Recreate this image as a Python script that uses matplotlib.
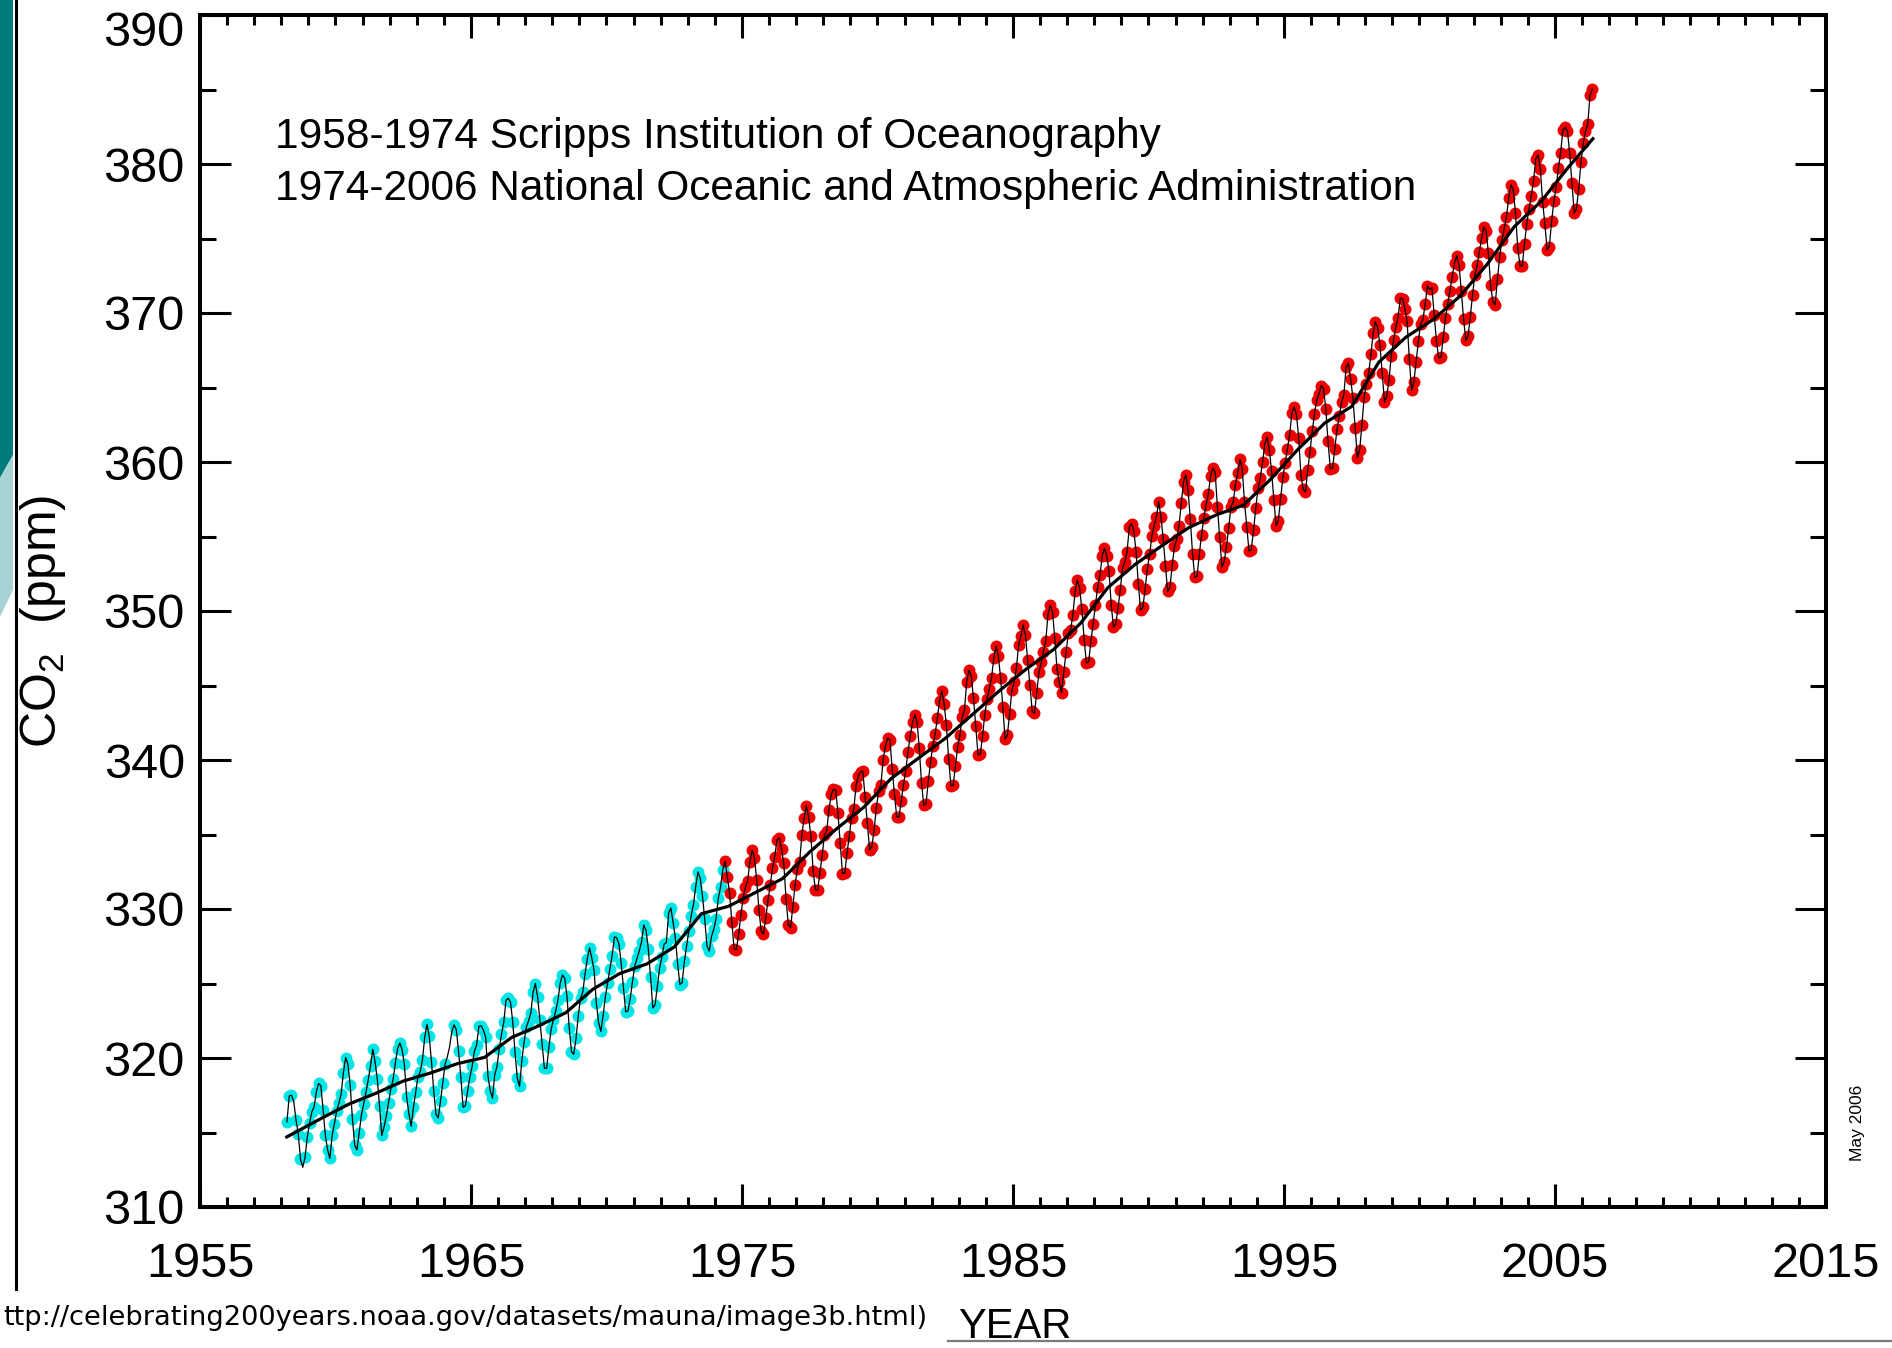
import numpy as np
import matplotlib
matplotlib.use("Agg")
import matplotlib.pyplot as plt
from matplotlib.patches import Polygon
from matplotlib.lines import Line2D
from matplotlib import font_manager as fm
from matplotlib.ticker import MultipleLocator, FixedLocator, FixedFormatter

# ---------------- data (monthly mean CO2, ppm) ----------------
scripps_start = (1958, 3)   # Scripps record, cyan
scripps_co2 = [
    315.71, 317.45, 317.50, 317.10, 315.86, 314.93, 313.20, 312.66, 313.33, 314.67,
    315.62, 316.38, 316.71, 317.72, 318.29, 318.15, 316.54, 314.80, 313.84, 313.26, 314.80, 315.58,
    316.43, 316.97, 317.58, 319.02, 320.03, 319.59, 318.18, 315.91, 314.16, 313.83, 315.00, 316.19,
    316.93, 317.70, 318.54, 319.48, 320.58, 319.77, 318.57, 316.79, 314.80, 315.38, 316.10, 317.01,
    317.94, 318.56, 319.68, 320.63, 321.01, 320.55, 319.58, 317.40, 316.26, 315.42, 316.69, 317.69,
    318.74, 319.08, 319.86, 321.39, 322.25, 321.47, 319.74, 317.77, 316.21, 315.99, 317.12, 318.31,
    319.57, 320.07, 320.73, 321.77, 322.23, 321.89, 320.44, 318.70, 316.70, 316.79, 317.79, 318.71,
    319.44, 320.44, 320.89, 322.13, 322.16, 321.87, 321.39, 318.81, 317.81, 317.30, 318.87, 319.42,
    320.62, 321.59, 322.39, 323.87, 324.01, 323.75, 322.39, 320.37, 318.64, 318.10, 319.79, 321.08,
    322.07, 322.50, 323.04, 324.42, 325.00, 324.09, 322.55, 320.92, 319.31, 319.31, 320.72, 321.96,
    322.57, 323.15, 323.89, 325.02, 325.57, 325.36, 324.14, 322.03, 320.41, 320.25, 321.31, 322.84,
    324.00, 324.42, 325.64, 326.66, 327.38, 326.70, 325.89, 323.67, 322.38, 321.78, 322.85, 324.12,
    325.03, 325.99, 326.87, 328.13, 328.07, 327.66, 326.35, 324.69, 323.10, 323.16, 323.98, 325.13,
    326.17, 326.68, 327.18, 327.78, 328.92, 328.57, 327.34, 325.46, 323.36, 323.57, 324.80, 326.01,
    326.77, 327.63, 327.75, 329.72, 330.07, 329.09, 328.05, 326.32, 324.93, 325.06, 326.50, 327.55,
    328.54, 329.56, 330.30, 331.50, 332.48, 332.07, 330.87, 329.31, 327.51, 327.18, 328.16, 328.64,
    329.35, 330.71, 331.48, 332.65,
]
scripps_gaps = [(1958, 6), (1958, 10), (1964, 2), (1964, 3), (1964, 4)]  # line only, no dot

noaa_start = (1974, 5)      # NOAA record, red
noaa_co2 = [
    333.20, 332.16, 331.07, 329.12, 327.32, 327.28, 328.30, 329.58,
    330.73, 331.46, 331.90, 333.17, 333.94, 333.45, 331.97, 329.95, 328.50, 328.34, 329.37, 330.58,
    331.59, 332.75, 333.52, 334.64, 334.77, 334.00, 333.06, 330.68, 328.95, 328.75, 330.15, 331.62,
    332.66, 333.13, 334.95, 336.13, 336.93, 336.17, 334.88, 332.56, 331.29, 331.27, 332.41, 333.60,
    334.95, 335.25, 336.66, 337.69, 338.03, 338.01, 336.41, 334.41, 332.37, 332.41, 333.75, 334.90,
    336.14, 336.69, 338.27, 338.95, 339.21, 339.26, 337.54, 335.75, 333.98, 334.19, 335.31, 336.81,
    337.90, 338.34, 340.01, 340.93, 341.48, 341.33, 339.40, 337.70, 336.19, 336.15, 337.27, 338.32,
    339.29, 340.55, 341.61, 342.53, 343.03, 342.54, 340.78, 338.44, 336.95, 337.08, 338.58, 339.88,
    340.96, 341.73, 342.81, 343.97, 344.63, 343.79, 342.32, 340.09, 338.28, 338.29, 339.60, 340.90,
    341.68, 342.90, 343.33, 345.25, 346.03, 345.63, 344.19, 342.27, 340.35, 340.38, 341.59, 343.05,
    344.10, 344.79, 345.52, 346.84, 347.63, 346.98, 345.53, 343.55, 341.40, 341.67, 343.10, 344.70,
    345.21, 346.16, 347.74, 348.34, 349.06, 348.38, 346.72, 345.02, 343.27, 343.13, 344.49, 345.88,
    346.56, 347.28, 348.01, 349.77, 350.38, 349.93, 348.16, 346.08, 345.22, 344.51, 345.93, 347.22,
    348.52, 348.73, 349.73, 351.31, 352.09, 351.53, 350.11, 348.08, 346.52, 346.59, 347.96, 349.16,
    350.39, 351.64, 352.40, 353.69, 354.21, 353.72, 352.69, 350.40, 348.92, 349.13, 350.20, 351.41,
    352.91, 353.27, 353.96, 355.64, 355.86, 355.37, 353.99, 351.81, 350.05, 350.25, 351.49, 352.85,
    353.80, 355.04, 355.73, 356.32, 357.32, 356.34, 354.84, 353.01, 351.31, 351.62, 353.07, 354.33,
    354.84, 355.73, 357.23, 358.66, 359.13, 358.13, 356.19, 353.85, 352.25, 352.35, 353.81, 355.12,
    356.25, 357.11, 357.86, 359.09, 359.59, 359.33, 357.01, 354.94, 352.96, 353.32, 354.32, 355.57,
    357.00, 357.31, 358.47, 359.27, 360.19, 359.52, 357.33, 355.64, 354.03, 354.12, 355.41, 356.91,
    358.24, 358.92, 359.99, 361.23, 361.65, 360.81, 359.38, 357.46, 355.73, 356.07, 357.53, 358.98,
    359.92, 360.86, 361.83, 363.30, 363.69, 363.19, 361.64, 359.12, 358.17, 357.99, 359.45, 360.68,
    362.07, 363.24, 364.17, 364.57, 365.13, 364.92, 363.55, 361.38, 359.54, 359.58, 360.89, 362.24,
    363.09, 364.03, 364.51, 366.35, 366.64, 365.59, 364.31, 362.25, 360.29, 360.82, 362.49, 364.38,
    365.26, 365.98, 367.24, 368.66, 369.42, 368.99, 367.82, 365.95, 364.02, 364.40, 365.52, 367.13,
    368.18, 369.07, 369.68, 370.99, 370.96, 370.30, 369.45, 366.90, 364.81, 365.37, 366.72, 368.10,
    369.29, 369.54, 370.60, 371.82, 371.58, 371.70, 369.86, 368.13, 367.00, 367.03, 368.37, 369.67,
    370.59, 371.51, 372.43, 373.37, 373.85, 373.21, 371.51, 369.61, 368.18, 368.45, 369.76, 371.24,
    372.53, 373.20, 374.12, 375.02, 375.76, 375.52, 374.01, 371.85, 370.75, 370.55, 372.25, 373.79,
    374.88, 375.64, 376.45, 377.73, 378.60, 378.28, 376.70, 374.38, 373.17, 373.15, 374.66, 375.99,
    377.00, 377.87, 378.88, 380.35, 380.62, 379.69, 377.47, 376.01, 374.25, 374.46, 376.16, 377.51,
    378.46, 379.73, 380.77, 382.29, 382.45, 382.21, 380.74, 378.74, 376.70, 377.00, 378.35, 380.11,
    381.38, 382.19, 382.67, 384.61, 385.03,
]

# smoothed (deseasonalised) trend
trend_year = [1958.2] + [y + 0.5 for y in range(1959, 2006)] + [2006.4]
trend_co2 = [
    314.70,
    315.97, 316.91, 317.64, 318.45, 318.99, 319.62, 320.04, 321.38, 322.16, 323.04,
    324.62, 325.68, 326.32, 327.45, 329.68, 330.18, 331.11, 332.04, 333.83, 335.40,
    336.84, 338.75, 340.11, 341.45, 343.05, 344.65, 346.12, 347.42, 349.19, 351.57,
    353.12, 354.39, 355.61, 356.45, 357.10, 358.83, 360.82, 362.61, 363.73, 366.70,
    368.38, 369.55, 371.14, 373.28, 375.80, 377.52, 379.80,
    381.70,
]

x_ticks = [1955, 1965, 1975, 1985, 1995, 2005, 2015]
x_tick_labels = ["1955", "1965", "1975", "1985", "1995", "2005", "2015"]
y_ticks = [310, 320, 330, 340, 350, 360, 370, 380, 390]
y_tick_labels = ["310", "320", "330", "340", "350", "360", "370", "380", "390"]

note_lines = ["1958-1974 Scripps Institution of Oceanography",
              "1974-2006 National Oceanic and Atmospheric Administration"]
source_text = "ttp://celebrating200years.noaa.gov/datasets/mauna/image3b.html)"

# ---------------- fonts ----------------
def has_font(name):
    try:
        fm.findfont(fm.FontProperties(family=name), fallback_to_default=False)
        return True
    except Exception:
        return False

plt.rcParams['font.family'] = ['Liberation Sans', 'DejaVu Sans']
plt.rcParams['mathtext.fontset'] = 'custom'
plt.rcParams['mathtext.rm'] = 'Liberation Sans'
plt.rcParams['mathtext.it'] = 'Liberation Sans:italic'
plt.rcParams['mathtext.bf'] = 'Liberation Sans:bold'
narrow = 'Liberation Sans Narrow' if has_font('Liberation Sans Narrow') else None

# ---------------- helpers ----------------
def month_times(start, n):
    y0, m0 = start
    return np.array([y0 + (m0 - 1 + i + 0.5) / 12.0 for i in range(n)])

W, H = 1892, 1348
fig = plt.figure(figsize=(W / 100, H / 100), dpi=100)
fig.patch.set_facecolor('white')

def fx(px):
    return px / W

def fy(py):
    return 1 - py / H

ax = fig.add_axes([fx(200), fy(1207), fx(1826) - fx(200), fy(15) - fy(1207)])

t_s = month_times(scripps_start, len(scripps_co2))
t_n = month_times(noaa_start, len(noaa_co2))
v_s = np.array(scripps_co2)
v_n = np.array(noaa_co2)

gap_t = [y + (m - 0.5) / 12.0 for (y, m) in scripps_gaps]
mask = np.array([not any(abs(t - g) < 1e-6 for g in gap_t) for t in t_s])

ax.plot(t_s[mask], v_s[mask], 'o', color='#00e6e6', ms=8.6, mec='none', zorder=2)
ax.plot(t_n, v_n, 'o', color='#ee0000', ms=8.6, mec='none', zorder=2)
ax.plot(np.concatenate([t_s, t_n]), np.concatenate([v_s, v_n]),
        color='black', lw=0.9, zorder=3)
ax.plot(trend_year, trend_co2, color='black', lw=2.3, zorder=4)

ax.set_xlim(1955, 2015)
ax.set_ylim(310, 390)

# the top label (390) sits just below the top frame in the reference; drawn separately
y_fmt = list(y_tick_labels)
y_fmt[-1] = ""
ax.xaxis.set_major_locator(FixedLocator(x_ticks))
ax.xaxis.set_major_formatter(FixedFormatter(x_tick_labels))
ax.xaxis.set_minor_locator(MultipleLocator(1))
ax.yaxis.set_major_locator(FixedLocator(y_ticks))
ax.yaxis.set_major_formatter(FixedFormatter(y_fmt))
ax.yaxis.set_minor_locator(MultipleLocator(5))

ax.tick_params(axis='both', which='both', direction='in', top=True, right=True,
               colors='black', width=2.2)
ax.tick_params(axis='x', which='major', length=16.5, pad=25, labelsize=35)
ax.tick_params(axis='x', which='minor', length=7.5)
ax.tick_params(axis='y', which='major', length=22, pad=11, labelsize=35)
ax.tick_params(axis='y', which='minor', length=11.5)
for sp in ax.spines.values():
    sp.set_linewidth(2.9)
    sp.set_color('black')

fig.text(fx(184), fy(33), y_tick_labels[-1], fontsize=35, ha='right', va='center')

# notes inside the plot
fig.text(fx(275), fy(148), note_lines[0], fontsize=30.5, ha='left', va='baseline')
fig.text(fx(275), fy(200), note_lines[1], fontsize=30.5, ha='left', va='baseline')

# y label
fig.text(fx(43), fy(621), 'CO$_\\mathregular{2}$  (ppm)', fontsize=36,
         rotation=90, ha='center', va='center')

# small date stamp
fig.text(fx(1857), fy(1123), 'May 2006', fontsize=12.5, rotation=90,
         ha='center', va='center')

# source url at the bottom-left
fig.text(fx(3), fy(1325), source_text, fontsize=19.6, ha='left', va='baseline',
         family=['DejaVu Sans'])

# YEAR caption
if narrow:
    fig.text(fx(960), fy(1340), 'YEAR', fontsize=34, ha='left', va='baseline',
             family=[narrow, 'Liberation Sans'])
else:
    fig.text(fx(958), fy(1338), 'YEAR', fontsize=30, ha='left', va='baseline')

# gray rule under YEAR
fig.add_artist(Line2D([fx(948), fx(1892)], [fy(1341), fy(1341)],
                      transform=fig.transFigure, color='#7a7a7a', lw=1.6, zorder=10))

# slide decoration on the left edge
fig.add_artist(Polygon([(fx(0), fy(0)), (fx(13), fy(0)), (fx(13), fy(455)), (fx(0), fy(478))],
                       closed=True, transform=fig.transFigure, facecolor='#007a7a',
                       edgecolor='none'))
fig.add_artist(Polygon([(fx(0), fy(478)), (fx(13), fy(455)), (fx(13), fy(590)), (fx(0), fy(617))],
                       closed=True, transform=fig.transFigure, facecolor='#a6d4d4',
                       edgecolor='none'))
fig.add_artist(Line2D([fx(15.5), fx(15.5)], [fy(0), fy(1289)], transform=fig.transFigure,
                      color='black', lw=2.2))

fig.savefig('out.png', dpi=100, facecolor='white')
